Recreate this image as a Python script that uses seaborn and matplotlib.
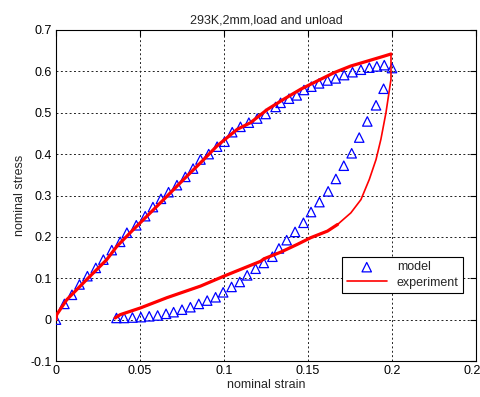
import numpy as np
import pandas as pd
import matplotlib
matplotlib.use("Agg")
import matplotlib.pyplot as plt
import seaborn as sns

# model, loading branch
model_load_strain = [0, .005, .0095, .014, .0187, .0237, .0282, .0332, .0382, .0422,
                     .0478, .0531, .0577, .0625, .067, .072, .077, .0816, .086, .0909,
                     .0959, .1003, .1049, .1098, .1148, .1198, .1248, .1307, .1337, .1387,
                     .1433, .1476, .152, .1566, .1616, .1665, .1715, .1765, .1815, .1865,
                     .191, .1954, .2]
model_load_stress = [0, .038, .06, .085, .105, .125, .145, .168, .188, .21,
                     .228, .25, .272, .292, .308, .325, .345, .365, .387, .4,
                     .418, .43, .453, .466, .476, .486, .497, .514, .524, .534,
                     .542, .555, .563, .571, .578, .583, .591, .598, .604, .609,
                     .612, .615, .608]

# model, unloading branch
model_unload_strain = [.195, .1905, .1853, .1805, .176, .1713, .1666, .162, .1568, .1518,
                       .1473, .1423, .1373, .1327, .1288, .1237, .1188, .1138, .1094, .1045,
                       .0995, .095, .09, .085, .08, .075, .07, .0655, .0605, .0555,
                       .0505, .0455, .0405, .036]
model_unload_stress = [.558, .518, .479, .44, .402, .372, .34, .31, .284, .26,
                       .234, .212, .192, .172, .152, .137, .123, .107, .091, .079,
                       .066, .054, .046, .038, .03, .024, .018, .014, .01, .008,
                       .006, .005, .004, .004]

# experiment
exp_load_strain = [0, .0004, .0064, .0183, .0302, .0362, .0461, .0561, .066, .076,
                   .086, .0959, .1079, .1158, .1258, .1357, .1457, .1556, .1656, .1755,
                   .1855, .1954, .1994]
exp_load_stress = [0, .012, .048, .097, .145, .177, .218, .258, .298, .339,
                   .379, .42, .46, .476, .508, .533, .557, .577, .597, .613,
                   .625, .637, .642]
exp_unload_strain = [.1994, .1994, .1964, .1934, .1905, .1865, .1815, .1755, .1676, .1616,
                     .1516, .1437, .1337, .1238, .1218, .0999, .086, .066, .0501, .0382,
                     .0352]
exp_unload_stress = [.642, .581, .5, .436, .387, .339, .29, .258, .23, .214,
                     .198, .182, .163, .147, .141, .105, .081, .053, .028, .012,
                     .004]

x_ticks = [0, 0.05, 0.1, 0.15, 0.2, 0.25]
x_tick_labels = ["0", "0.05", "0.1", "0.15", "0.2", "0.25"]
y_ticks = [-0.1, 0, 0.1, 0.2, 0.3, 0.4, 0.5, 0.6, 0.7]
y_tick_labels = ["-0.1", "0", "0.1", "0.2", "0.3", "0.4", "0.5", "0.6", "0.7"]


def main():
    sns.set_style("white")
    plt.rcParams["font.family"] = ["Liberation Sans", "DejaVu Sans"]

    fig = plt.figure(figsize=(4.81, 3.97), dpi=100)
    ax = fig.add_axes([56 / 481, 1 - 361 / 397, 420 / 481, 331 / 397])

    model = pd.concat([
        pd.DataFrame({"strain": model_load_strain, "stress": model_load_stress}),
        pd.DataFrame({"strain": model_unload_strain, "stress": model_unload_stress}),
    ])
    sns.scatterplot(data=model, x="strain", y="stress", marker="^", s=46,
                    facecolor="none", edgecolor="#0000ff", linewidth=0.9,
                    label="model", ax=ax, zorder=3)

    load = pd.DataFrame({"strain": exp_load_strain, "stress": exp_load_stress})
    unload = pd.DataFrame({"strain": exp_unload_strain, "stress": exp_unload_stress})
    # the dense, noisy samples make the flat parts look heavier than the steep one
    sns.lineplot(data=load, x="strain", y="stress", sort=False, estimator=None,
                 color="#ff0000", linewidth=2.3, ax=ax, zorder=4)
    sns.lineplot(data=unload[unload["stress"] < 0.24], x="strain", y="stress", sort=False,
                 estimator=None, color="#ff0000", linewidth=2.3, ax=ax, zorder=4)
    sns.lineplot(data=unload, x="strain", y="stress", sort=False, estimator=None,
                 color="#ff0000", linewidth=1.2, ax=ax, zorder=4, label="experiment")

    ax.set_xlim(0, 0.25)
    ax.set_ylim(-0.1, 0.7)
    ax.set_xticks(x_ticks)
    ax.set_xticklabels(x_tick_labels)
    ax.set_yticks(y_ticks)
    ax.set_yticklabels(y_tick_labels)
    ax.tick_params(direction="in", length=4, width=0.8, top=True, right=True,
                   labelsize=9, colors="black", pad=3)
    ax.grid(True, color="#222222", linestyle=(0, (2, 2.5)), linewidth=0.7)
    for sp in ax.spines.values():
        sp.set_color("black")
        sp.set_linewidth(0.8)

    ax.set_xlabel("nominal strain", fontsize=9, labelpad=1)
    ax.set_ylabel("nominal stress", fontsize=9, labelpad=3)
    ax.set_title("293K,2mm,load and unload", fontsize=9, pad=5)

    leg = ax.legend(loc="upper right", bbox_to_anchor=(0.969, 0.314), borderaxespad=0,
                    fontsize=9, frameon=True, fancybox=False, edgecolor="black",
                    handlelength=3.2, borderpad=0.35, labelspacing=0.25, handletextpad=0.8)
    leg.get_frame().set_linewidth(0.8)
    leg.get_frame().set_alpha(1)

    fig.savefig("out.png", dpi=100)


if __name__ == "__main__":
    main()
